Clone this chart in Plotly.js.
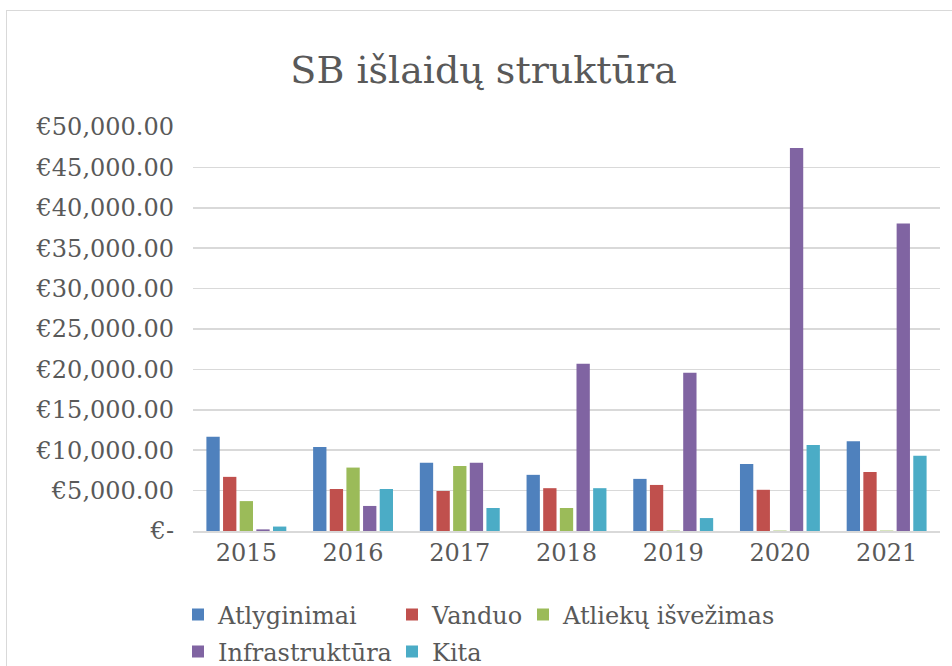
<!DOCTYPE html>
<html>
<head>
<meta charset="utf-8">
<script src="https://cdn.plot.ly/plotly-3.0.1.min.js"></script>
<style>
html,body{margin:0;padding:0;background:#fff;}
#frame{position:absolute;left:6px;top:10px;width:960px;height:670px;border:1.5px solid #d9d9d9;box-sizing:border-box;}
#chart{position:absolute;left:0;top:0;width:952px;height:666px;}
</style>
</head>
<body>
<div id="frame"></div>
<div id="chart"></div>
<script>
const years = ['2015','2016','2017','2018','2019','2020','2021'];
const atlyginimai = [11650, 10400, 8450, 6950, 6450, 8300, 11100];
const vanduo = [6700, 5200, 4950, 5300, 5700, 5100, 7300];
const atliekos = [3700, 7850, 8050, 2850, 50, 50, 50];
const infrastruktura = [200, 3100, 8450, 20700, 19600, 47400, 38050];
const kita = [550, 5200, 2850, 5300, 1600, 10650, 9300];

const seriesNames = ['Atlyginimai', 'Vanduo', 'Atliekų išvežimas', 'Infrastruktūra', 'Kita'];
const seriesData = [atlyginimai, vanduo, atliekos, infrastruktura, kita];
const colors = ['#4F81BD', '#C0504D', '#9BBB59', '#8064A2', '#4BACC6'];

const tickVals = [0, 5000, 10000, 15000, 20000, 25000, 30000, 35000, 40000, 45000, 50000];
const tickText = ['€-', '€5,000.00', '€10,000.00', '€15,000.00', '€20,000.00', '€25,000.00', '€30,000.00', '€35,000.00', '€40,000.00', '€45,000.00', '€50,000.00'];

const font = 'DejaVu Serif, serif';
const grey = '#595959';

const legendIds = ['legend', 'legend2', 'legend3', 'legend4', 'legend5'];
const traces = seriesNames.map((n, i) => ({
  type: 'bar', name: n, x: years, y: seriesData[i],
  marker: {color: colors[i]}, legend: legendIds[i]
}));

const W = 952 - 193 - 12, H = 666 - 127 - 135;
const lx = px => (px - 193) / W;
const ly = py => (531 - py) / H;
const legPos = [[178, 615], [392, 615], [523, 615], [178, 652], [392, 652]];

const layout = {
  width: 952, height: 666,
  paper_bgcolor: 'rgba(0,0,0,0)', plot_bgcolor: 'rgba(0,0,0,0)',
  margin: {l: 193, r: 12, t: 127, b: 135, autoexpand: false},
  barmode: 'group', bargap: 0.22, bargroupgap: 0.2,
  title: {text: 'SB išlaidų struktūra', x: 0.508, xanchor: 'center', y: 0.895, yanchor: 'middle',
    font: {family: font, size: 38, color: grey}},
  font: {family: font, color: grey},
  xaxis: {type: 'category', tickfont: {family: font, size: 24, color: grey},
    showline: true, linecolor: '#d9d9d9', linewidth: 1.5, ticks: '', ticklen: 0},
  yaxis: {range: [0, 50000], tickvals: tickVals, ticktext: tickText,
    tickfont: {family: font, size: 24, color: grey},
    showgrid: true, gridcolor: '#d9d9d9', gridwidth: 1.5, zeroline: false,
    ticks: '', ticklabelstandoff: 18},
  showlegend: true
};
legendIds.forEach((id, i) => {
  layout[id] = {orientation: 'v', x: lx(legPos[i][0]), xanchor: 'left',
    y: ly(legPos[i][1]), yanchor: 'middle', bgcolor: 'rgba(0,0,0,0)',
    font: {family: font, size: 24, color: grey}, itemwidth: 30};
});

Plotly.newPlot('chart', traces, layout, {displayModeBar: false, staticPlot: true});
</script>
</body>
</html>
